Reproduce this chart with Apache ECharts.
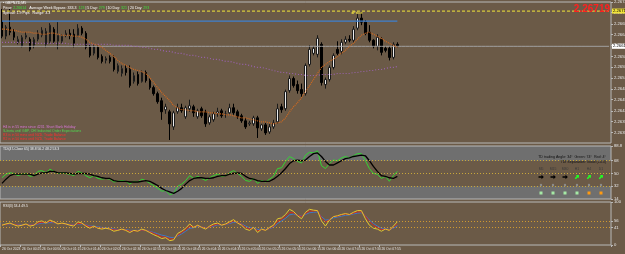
<!DOCTYPE html>
<html>
<head>
<meta charset="utf-8">
<script src="https://cdn.jsdelivr.net/npm/echarts@6/dist/echarts.min.js"></script>
<style>
html, body { margin: 0; padding: 0; background: #6b5a47; }
#main { width: 625px; height: 254px; }
</style>
</head>
<body>
<div id="main"></div>
<script>
// M5 candles, one entry per bar
const opens = [2.26689,2.26644,2.26671,2.26656,2.26626,2.26614,2.26641,2.26635,2.26617,2.26635,
  2.26647,2.26620,2.26629,2.26665,2.26629,2.26629,2.26647,2.26653,2.26650,2.26647,
  2.26668,2.26653,2.26614,2.26593,2.26611,2.26584,2.26572,2.26581,2.26578,2.26539,
  2.26533,2.26548,2.26545,2.26509,2.26530,2.26509,2.26536,2.26512,2.26491,2.26473,
  2.26452,2.26425,2.26419,2.26374,2.26419,2.26431,2.26404,2.26428,2.26434,2.26404,
  2.26428,2.26419,2.26386,2.26395,2.26413,2.26422,2.26410,2.26416,2.26431,2.26419,
  2.26407,2.26392,2.26383,2.26383,2.26401,2.26368,2.26380,2.26359,2.26374,2.26389,
  2.26434,2.26428,2.26482,2.26518,2.26500,2.26485,2.26473,2.26560,2.26593,2.26590,
  2.26620,2.26500,2.26515,2.26551,2.26605,2.26599,2.26626,2.26635,2.26632,2.26668,
  2.26698,2.26686,2.26656,2.26632,2.26614,2.26635,2.26608,2.26608,2.26581,2.26620]
const closes = [2.26644,2.26671,2.26656,2.26641,2.26635,2.26641,2.26647,2.26605,2.26635,2.26653,
  2.26662,2.26659,2.26677,2.26629,2.26647,2.26644,2.26653,2.26647,2.26623,2.26668,
  2.26653,2.26611,2.26587,2.26614,2.26581,2.26569,2.26578,2.26569,2.26545,2.26557,
  2.26548,2.26536,2.26497,2.26527,2.26503,2.26536,2.26512,2.26491,2.26473,2.26449,
  2.26419,2.26434,2.26383,2.26416,2.26431,2.26422,2.26431,2.26437,2.26416,2.26422,
  2.26407,2.26383,2.26404,2.26413,2.26419,2.26407,2.26413,2.26431,2.26416,2.26404,
  2.26392,2.26374,2.26386,2.26401,2.26371,2.26380,2.26356,2.26374,2.26386,2.26428,
  2.26425,2.26479,2.26518,2.26497,2.26482,2.26473,2.26557,2.26605,2.26608,2.26638,
  2.26506,2.26515,2.26551,2.26587,2.26593,2.26626,2.26635,2.26632,2.26665,2.26698,
  2.26686,2.26653,2.26632,2.26614,2.26641,2.26596,2.26602,2.26581,2.26620,2.26614]
const lows = [2.26638,2.26635,2.26647,2.26632,2.26620,2.26611,2.26635,2.26599,2.26608,2.26629,
  2.26641,2.26611,2.26623,2.26623,2.26605,2.26623,2.26641,2.26635,2.26611,2.26641,
  2.26647,2.26605,2.26581,2.26587,2.26575,2.26563,2.26563,2.26563,2.26539,2.26533,
  2.26524,2.26527,2.26491,2.26503,2.26497,2.26506,2.26506,2.26485,2.26467,2.26443,
  2.26395,2.26413,2.26335,2.26365,2.26413,2.26416,2.26398,2.26419,2.26404,2.26398,
  2.26401,2.26374,2.26380,2.26389,2.26404,2.26401,2.26401,2.26413,2.26410,2.26398,
  2.26386,2.26368,2.26377,2.26377,2.26341,2.26362,2.26350,2.26353,2.26368,2.26383,
  2.26416,2.26422,2.26476,2.26491,2.26473,2.26464,2.26467,2.26554,2.26587,2.26581,
  2.26497,2.26488,2.26509,2.26545,2.26587,2.26590,2.26620,2.26626,2.26626,2.26662,
  2.26677,2.26647,2.26626,2.26608,2.26602,2.26587,2.26596,2.26572,2.26575,2.26611]
const highs = [2.26725,2.26677,2.26725,2.26665,2.26644,2.26647,2.26656,2.26641,2.26641,2.26662,
  2.26671,2.26668,2.26683,2.26671,2.26686,2.26650,2.26662,2.26665,2.26665,2.26680,
  2.26674,2.26659,2.26620,2.26620,2.26617,2.26590,2.26584,2.26587,2.26587,2.26563,
  2.26557,2.26557,2.26557,2.26536,2.26539,2.26542,2.26542,2.26518,2.26497,2.26479,
  2.26461,2.26443,2.26425,2.26422,2.26443,2.26443,2.26437,2.26455,2.26440,2.26428,
  2.26434,2.26425,2.26410,2.26419,2.26431,2.26428,2.26422,2.26443,2.26443,2.26425,
  2.26413,2.26401,2.26392,2.26407,2.26407,2.26383,2.26386,2.26383,2.26395,2.26443,
  2.26443,2.26485,2.26527,2.26524,2.26512,2.26503,2.26563,2.26617,2.26614,2.26647,
  2.26626,2.26521,2.26557,2.26593,2.26629,2.26635,2.26644,2.26647,2.26674,2.26710,
  2.26716,2.26692,2.26677,2.26635,2.26650,2.26641,2.26614,2.26614,2.26626,2.26626]

// moving averages on the price window
const maFast = [2.26665,2.26665,2.26662,2.26662,2.26659,2.26656,2.26656,2.26656,2.26653,2.26653,
  2.26650,2.26650,2.26653,2.26653,2.26650,2.26647,2.26647,2.26647,2.26644,2.26644,
  2.26641,2.26635,2.26626,2.26620,2.26617,2.26611,2.26602,2.26593,2.26584,2.26572,
  2.26563,2.26557,2.26551,2.26545,2.26542,2.26539,2.26533,2.26521,2.26506,2.26491,
  2.26476,2.26464,2.26452,2.26437,2.26431,2.26425,2.26425,2.26422,2.26422,2.26419,
  2.26419,2.26419,2.26416,2.26416,2.26413,2.26413,2.26410,2.26410,2.26407,2.26404,
  2.26401,2.26401,2.26398,2.26395,2.26392,2.26389,2.26389,2.26386,2.26383,2.26386,
  2.26389,2.26401,2.26419,2.26434,2.26446,2.26461,2.26479,2.26497,2.26515,2.26533,
  2.26551,2.26560,2.26569,2.26575,2.26584,2.26593,2.26602,2.26614,2.26623,2.26635,
  2.26647,2.26653,2.26656,2.26650,2.26644,2.26638,2.26629,2.26623,2.26617,2.26611]
const maSlow = [2.26626,2.26626,2.26626,2.26626,2.26626,2.26626,2.26626,2.26626,2.26623,2.26623,
  2.26623,2.26623,2.26623,2.26623,2.26623,2.26623,2.26623,2.26620,2.26620,2.26620,
  2.26620,2.26620,2.26620,2.26620,2.26620,2.26620,2.26620,2.26620,2.26617,2.26617,
  2.26617,2.26617,2.26617,2.26614,2.26614,2.26611,2.26611,2.26608,2.26605,2.26605,
  2.26602,2.26599,2.26599,2.26596,2.26593,2.26593,2.26590,2.26587,2.26587,2.26584,
  2.26581,2.26581,2.26578,2.26575,2.26575,2.26572,2.26569,2.26569,2.26566,2.26563,
  2.26560,2.26560,2.26557,2.26554,2.26551,2.26551,2.26548,2.26545,2.26542,2.26539,
  2.26536,2.26536,2.26533,2.26533,2.26530,2.26530,2.26527,2.26527,2.26527,2.26527,
  2.26530,2.26530,2.26530,2.26530,2.26533,2.26533,2.26533,2.26533,2.26536,2.26536,
  2.26539,2.26539,2.26542,2.26542,2.26545,2.26545,2.26548,2.26551,2.26551,2.26554]

// TDI window
const tdiPrice = [44,49,51,50,47,49,50,46,47,53, 54,51,56,53,50,51,50,49,47,53,
  51,47,44,47,43,42,43,42,38,39, 40,39,35,39,38,42,40,36,33,29,
  25,26,20,22,32,35,40,47,43,46, 43,40,44,47,49,46,47,51,54,50,
  46,40,39,43,36,40,38,42,46,57, 58,67,74,71,67,65,76,80,79,82,
  61,57,64,69,68,72,74,72,75,78, 78,68,57,50,49,43,46,39,47,53]
const tdiSignal = [36,42,47,49,49,49,49,49,47,49, 51,51,53,53,51,51,51,50,49,50,
  50,50,49,47,46,44,43,43,40,39, 39,39,38,38,38,39,40,39,36,33,
  29,26,24,22,25,29,35,40,43,44, 44,43,43,44,46,47,47,49,50,51,
  50,46,43,42,40,39,39,39,42,46, 51,57,64,68,69,68,69,74,78,79,
  74,67,62,62,65,68,71,72,74,75, 76,75,68,60,53,47,46,44,43,46]

// lower oscillator window
const oscFast = [46,49,51,47,44,46,49,44,46,54, 56,51,58,54,49,51,49,46,44,54,
  51,44,39,44,39,37,39,37,32,34, 37,34,29,34,32,37,34,29,24,20,
  15,17,10,12,27,32,39,49,41,46, 41,37,44,49,51,46,49,54,59,51,
  46,37,34,41,29,37,34,41,46,61, 63,71,83,78,68,61,76,83,81,80,
  56,44,58,66,68,71,73,71,76,80, 80,61,46,39,37,32,37,34,44,54]
const oscMid = [47,48,50,48,46,46,48,46,47,51, 53,52,55,53,50,50,49,47,46,50,
  50,46,42,43,40,39,39,38,35,35, 36,35,32,33,33,35,34,31,27,23,
  19,18,14,14,23,29,36,44,42,45, 42,39,42,46,49,47,48,52,56,52,
  48,41,37,40,33,36,35,39,44,55, 60,67,76,75,69,66,73,79,79,80,
  63,53,59,66,67,70,72,71,74,77, 77,67,55,46,41,36,37,35,41,49]
const oscSlow = [48,48,49,48,47,47,48,47,47,49, 51,51,52,52,50,50,49,48,47,49,
  49,47,44,44,42,41,40,39,37,36, 36,36,34,34,34,35,34,32,29,26,
  23,21,18,17,21,26,32,39,40,43, 42,40,41,44,47,47,48,50,53,52,
  49,44,40,40,36,37,36,38,42,50, 56,62,70,72,69,67,71,75,76,77,
  66,58,59,63,65,67,69,70,72,74, 75,68,58,50,44,39,38,36,39,45]

const priceTicks = [2.26746,2.26714,2.26681,2.26649,2.26617,2.26584,2.26552,2.26519,2.26487,2.26455,2.26422,2.26390,2.26357]
const tdiTicks = [88.8,68,50,32,14.0]
const oscTicks = [100,56,41,0]
const tdiLevels = [68,50,32]
const oscLevels = [56,41]
const alertLevel = 2.26719
const blueLevel = 2.26689
const timeLabels = ['26 Oct 2023','26 Oct 00:25','26 Oct 00:50','26 Oct 01:15','26 Oct 01:40','26 Oct 02:05',
  '26 Oct 02:30','26 Oct 02:55','26 Oct 03:20','26 Oct 03:45','26 Oct 04:10','26 Oct 04:35',
  '26 Oct 05:00','26 Oct 05:25','26 Oct 05:50','26 Oct 06:15','26 Oct 06:40','26 Oct 07:05',
  '26 Oct 07:30','26 Oct 07:55']
// multi-timeframe box in the TDI window
const tfNames = ['M5', 'M15', 'M30', 'H1', 'H4', 'D1']
const tfTrend = ['flat', 'flat', 'flat', 'up', 'up', 'up']
const tfState = ['ok', 'ok', 'ok', 'ok', 'warn', 'warn']

const TOTAL = 153
const STEP = 5
const cats = Array.from({ length: TOTAL }, (_, i) => i)
const lastClose = closes[closes.length - 1]
const candles = opens.map((o, i) => [o, closes[i], lows[i], highs[i]])

const BG = '#6b5a47'
const GREY = '#6f6f6f'
const EDGE = '#b9b9b9'
const FONT = 'Liberation Sans'
const tiny = (px) => px + 'px "' + FONT + '"'

const hiddenX = (grid) => ({
  type: 'category', gridIndex: grid, data: cats, boundaryGap: true,
  axisLine: { show: false }, axisTick: { show: false }, axisLabel: { show: false }, splitLine: { show: false }
})
const rightY = (grid, min, max, ticks, fmt) => ({
  type: 'value', gridIndex: grid, position: 'right', min: min, max: max,
  splitLine: { show: false }, axisLine: { show: false },
  axisTick: { show: true, customValues: ticks, length: 2, lineStyle: { color: EDGE } },
  axisLabel: { show: true, customValues: ticks, formatter: fmt, color: '#e6e6e6', fontSize: 4.2, fontFamily: FONT, margin: 3 }
})
const dotted = (color, w) => ({ color: color, type: [1, 2], width: w || 1 })
const onTime = (i) => i % STEP === 0 && i / STEP < timeLabels.length
const gridBox = (top, height, bg) => ({
  left: 0, right: 14, top: top, height: height, outerBoundsMode: 'none', containLabel: false,
  show: true, backgroundColor: bg, borderColor: EDGE, borderWidth: 1
})
// horizontal price line drawn as a flat series, with the MT4 price box at its end
const hline = (level, len, style, box) => ({
  type: 'line', xAxisIndex: 0, yAxisIndex: 0, data: Array(len).fill(level), symbol: 'none',
  silent: true, lineStyle: style,
  endLabel: box ? { show: true, formatter: level.toFixed(5), backgroundColor: box, color: '#000',
    fontSize: 4.2, fontFamily: FONT, padding: [1, 1, 0, 1], distance: 3 } : { show: false }
})

const arrowPts = [[-2.5, -0.8], [0.5, -0.8], [0.5, -2.2], [2.8, 0], [0.5, 2.2], [0.5, 0.8], [-2.5, 0.8]]
const tfBox = []
tfNames.forEach((name, k) => {
  const x = 541 + k * 12
  const up = tfTrend[k] === 'up'
  tfBox.push({ type: 'text', x: x, y: 168, style: { text: name, fill: '#3a3a3a', font: tiny(3.4), textAlign: 'center' } })
  tfBox.push({ type: 'polygon', x: x, y: 177, rotation: up ? Math.PI / 4 : 0,
    shape: { points: arrowPts }, style: { fill: up ? '#22ff22' : '#000000' } })
  tfBox.push({ type: 'circle', shape: { cx: x, cy: 185, r: 1.2 }, style: { fill: '#8c8c8c' } })
  tfBox.push({ type: 'rect', shape: { x: x - 1.5, y: 191.5, width: 3, height: 3 },
    style: { fill: tfState[k] === 'warn' ? '#ff9a10' : '#a6eaa6' } })
})

const texts = [
  { type: 'text', x: 3, y: 1, style: { text: '▪ GBPNZD,M5', fill: '#ffffff', font: tiny(3.6) } },
  { type: 'text', x: 3, y: 6, style: { rich: {
      w: { fill: '#ffffff', font: tiny(3.6) }, g: { fill: '#3ee03e', font: tiny(3.6) } },
      text: '{w|Price: }{g|2.26614}{w|   Average Week Bypass: 333.3  }{g|123}{w| | 5 Day: }{g|279}{w| | 10 Day: }{g|321}{w| | 20 Day: }{g|293}' } },
  { type: 'text', x: 3, y: 11, style: { text: 'Spread: 1.9 Pips   Range: 3.3', fill: '#ffffff', font: tiny(3.6) } },
  { type: 'text', x: 351, y: 11, style: { text: '◂Price', fill: '#e8d840', font: 'bold ' + tiny(4) } },
  { type: 'text', x: 610, y: 4, style: { text: alertLevel.toFixed(5), fill: '#ff2020', font: 'bold ' + tiny(10), textAlign: 'right' } },
  { type: 'text', x: 3, y: 126, style: { text: 'H4 is in 55 mins since 4231. Short Bank Holiday', fill: '#d878d8', font: tiny(3.4) } },
  { type: 'text', x: 3, y: 130, style: { text: 'S-Ineta until GBP, CHI Industrial Order Expectations', fill: '#50d850', font: tiny(3.4) } },
  { type: 'text', x: 3, y: 134, style: { text: 'R3 is in 50 mins until NZD, Trade Balance', fill: '#ff3030', font: tiny(3.4) } },
  { type: 'text', x: 3, y: 138, style: { text: 'R2 is in 50 mins until NZD, Trade Balance', fill: '#ff3030', font: tiny(3.4) } },
  { type: 'text', x: 3, y: 148, style: { text: 'TDI(47-Close 65) 38.8 56.2 48.2 53.3', fill: '#f0f0f0', font: tiny(3.4) } },
  { type: 'text', x: 3, y: 205, style: { text: 'RSI(3) 53.4 49.5', fill: '#f0f0f0', font: tiny(3.4) } },
  { type: 'text', x: 606, y: 155, style: { text: 'TD trading Angle: 34°  Green: 74°  Red: 4°', fill: '#101010', font: tiny(3.6), textAlign: 'right' } },
  { type: 'text', x: 606, y: 160, style: { text: 'TDI Separation: Good (+4.3)', fill: '#101010', font: tiny(3.6), textAlign: 'right' } }
]

const chart = echarts.init(document.getElementById('main'))
chart.setOption({
  backgroundColor: BG,
  animation: false,
  grid: [gridBox(2, 141, BG), gridBox(146, 53, GREY), gridBox(202, 43, BG)],
  xAxis: [hiddenX(0), hiddenX(1), Object.assign(hiddenX(2), {
    axisTick: { show: true, interval: onTime, length: 2, lineStyle: { color: EDGE } },
    axisLabel: { show: true, interval: onTime, formatter: (v, i) => timeLabels[i / STEP], hideOverlap: false,
      align: 'left', color: '#e6e6e6', fontSize: 3.4, fontFamily: FONT, margin: 3 }
  })],
  yAxis: [
    rightY(0, 2.26326, 2.26746, priceTicks, (v) => v.toFixed(5)),
    rightY(1, 14, 88.8, tdiTicks, (v) => v % 1 ? v.toFixed(1) : String(v)),
    rightY(2, 0, 100, oscTicks, (v) => String(v))
  ],
  series: [
    hline(alertLevel, TOTAL, { color: '#d9ca3c', type: [3, 2], width: 1.3 }, '#f2e43a'),
    hline(lastClose, TOTAL, { color: '#a0a0a0', width: 1 }, '#ffffff'),
    hline(blueLevel, opens.length, { color: '#3f80d0', width: 1.2 }, null),
    { type: 'line', xAxisIndex: 0, yAxisIndex: 0, data: maSlow, symbol: 'none', lineStyle: dotted('#9a62b0', 1.2) },
    { type: 'line', xAxisIndex: 0, yAxisIndex: 0, data: maFast, symbol: 'none', lineStyle: { color: '#d2691e', type: [1, 1], width: 1.2 } },
    {
      type: 'candlestick', xAxisIndex: 0, yAxisIndex: 0, data: candles, barWidth: 2,
      itemStyle: { color: '#ececec', color0: '#000000', borderColor: '#1a1a1a', borderColor0: '#000000', borderWidth: 1 }
    },
    {
      type: 'line', xAxisIndex: 1, yAxisIndex: 1, data: tdiPrice, symbol: 'none', lineStyle: { color: '#33d633', width: 1 },
      markArea: { silent: true, itemStyle: { color: BG }, data: [[{ yAxis: 32 }, { yAxis: 68 }]] },
      markLine: { silent: true, symbol: ['none', 'none'], label: { show: false }, lineStyle: dotted('#c9a83a'),
        data: tdiLevels.map((v) => ({ yAxis: v })) }
    },
    { type: 'line', xAxisIndex: 1, yAxisIndex: 1, data: tdiSignal, symbol: 'none', lineStyle: { color: '#000000', width: 1.3 } },
    {
      type: 'line', xAxisIndex: 2, yAxisIndex: 2, data: oscSlow, symbol: 'none', lineStyle: { color: '#3c78c8', width: 1 },
      markLine: { silent: true, symbol: ['none', 'none'], label: { show: false }, lineStyle: dotted('#d09a30'),
        data: oscLevels.map((v) => ({ yAxis: v })) }
    },
    { type: 'line', xAxisIndex: 2, yAxisIndex: 2, data: oscMid, symbol: 'none', lineStyle: { color: '#d02a20', width: 1 } },
    { type: 'line', xAxisIndex: 2, yAxisIndex: 2, data: oscFast, symbol: 'none', lineStyle: { color: '#e0c830', width: 1 } }
  ],
  // keep the overlay texts above the TDI band
  graphic: texts.concat(tfBox).map((el) => Object.assign({ z: 100 }, el))
})
</script>
</body>
</html>
